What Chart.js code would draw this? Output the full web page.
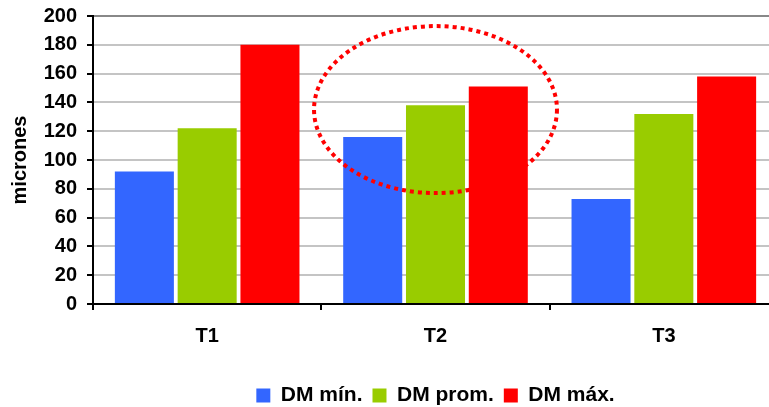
<!DOCTYPE html>
<html>
<head>
<meta charset="utf-8">
<script src="https://cdn.jsdelivr.net/npm/chart.js@4/dist/chart.umd.min.js"></script>
<style>
  html, body { margin: 0; padding: 0; background: #fff; overflow: hidden; }
  #wrap { width: 769px; height: 407px; overflow: hidden; position: relative; }
  canvas { display: block; }
</style>
</head>
<body>
<div id="wrap"><canvas id="c" width="780" height="416"></canvas></div>
<script>
// Treatments and diameter series (microns)
const categories = ['T1', 'T2', 'T3'];
const dmMin  = [92, 116, 73];
const dmProm = [122, 138, 132];
const dmMax  = [180, 151, 158];
const seriesNames = ['DM mín.', 'DM prom.', 'DM máx.'];
const yTicks = [0, 20, 40, 60, 80, 100, 120, 140, 160, 180, 200];

const FONT = '"Liberation Sans", Arial, sans-serif';

// Dotted ellipse highlighting the T2 group
const highlightT2 = {
  id: 'highlightT2',
  afterDatasetsDraw(chart) {
    const x = chart.scales.x, y = chart.scales.y;
    const cx = x.getPixelForValue(1);
    const cw = x.getPixelForValue(1) - x.getPixelForValue(0);
    const cy = y.getPixelForValue(135);
    const ry = y.getPixelForValue(77) - cy;
    const rx = cw * 0.532;
    const ctx = chart.ctx;
    ctx.save();
    ctx.strokeStyle = '#ff0000';
    ctx.lineWidth = 4;
    ctx.setLineDash([4, 4]);
    ctx.lineCap = 'butt';
    ctx.beginPath();
    ctx.ellipse(cx, cy, rx, ry, 0, 0, Math.PI * 2);
    ctx.stroke();
    ctx.restore();
  }
};

new Chart(document.getElementById('c'), {
  type: 'bar',
  data: {
    labels: categories,
    datasets: [
      { label: seriesNames[0], data: dmMin,  backgroundColor: '#3366ff', borderWidth: 0 },
      { label: seriesNames[1], data: dmProm, backgroundColor: '#99cc00', borderWidth: 0 },
      { label: seriesNames[2], data: dmMax,  backgroundColor: '#ff0000', borderWidth: 0 }
    ]
  },
  options: {
    responsive: false,
    animation: false,
    layout: { padding: { top: 16, right: 2, left: 0, bottom: 0 } },
    datasets: { bar: { categoryPercentage: 0.825, barPercentage: 0.94 } },
    plugins: {
      tooltip: { enabled: false },
      legend: {
        position: 'bottom',
        fullSize: false,
        labels: {
          boxWidth: 14, boxHeight: 14, padding: 10,
          color: '#000',
          font: { family: FONT, size: 21, weight: 'bold' }
        }
      }
    },
    scales: {
      x: {
        afterFit(s) { s.height = 71; },
        border: { color: '#000', width: 2 },
        grid: { drawOnChartArea: false, drawTicks: true, tickLength: 6, tickColor: '#000', lineWidth: 2, offset: true },
        ticks: { color: '#000', padding: 14, font: { family: FONT, size: 20, weight: 'bold' } }
      },
      y: {
        min: 0, max: 200,
        afterFit(s) { s.width = 93; s.paddingTop = 0; s.paddingBottom = 0; },
        afterBuildTicks(s) { s.ticks = yTicks.map(v => ({ value: v })); },
        border: { color: '#000', width: 2 },
        grid: {
          color: c => (c.tick && c.tick.value === 200) ? '#888888' : '#c4c4c4',
          lineWidth: 2, tickLength: 6, tickColor: '#000'
        },
        ticks: { color: '#000', padding: 10, font: { family: FONT, size: 20, weight: 'bold' } },
        title: {
          display: true, text: 'micrones', color: '#000',
          padding: { top: 8, bottom: 4 },
          font: { family: FONT, size: 20, weight: 'bold' }
        }
      }
    }
  },
  plugins: [highlightT2]
});
</script>
</body>
</html>
